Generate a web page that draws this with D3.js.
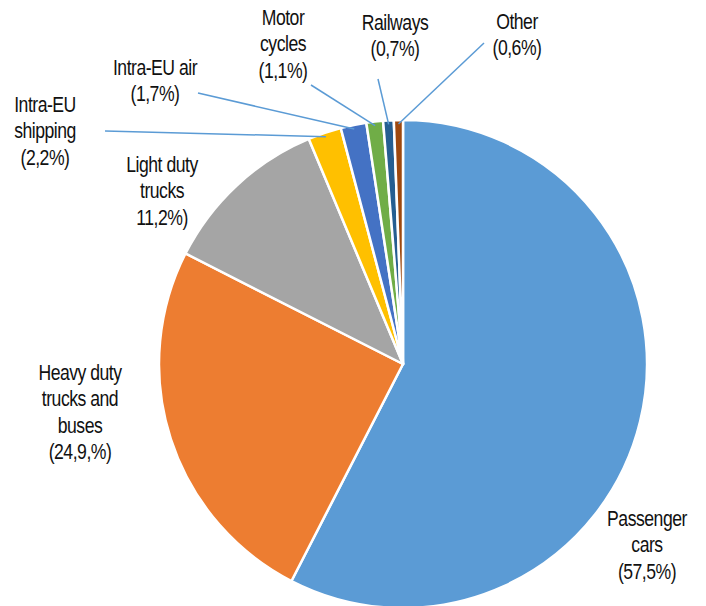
<!DOCTYPE html>
<html>
<head>
<meta charset="utf-8">
<script src="https://cdn.jsdelivr.net/npm/d3@7"></script>
<style>
  html, body { margin: 0; padding: 0; background: #fff; }
  svg { display: block; }
  text { font-family: "Liberation Sans", Arial, sans-serif; fill: #111; }
</style>
</head>
<body>
<svg id="chart" width="706" height="606"></svg>
<script>
// Transport emissions share by mode
const categories = ["Passenger cars", "Heavy duty trucks and buses", "Light duty trucks",
  "Intra-EU shipping", "Intra-EU air", "Motor cycles", "Railways", "Other"];
const shares = [57.5, 24.9, 11.2, 2.2, 1.7, 1.1, 0.7, 0.6];
const labelLines = [
  ["Passenger", "cars", "(57,5%)"],
  ["Heavy duty", "trucks and", "buses", "(24,9,%)"],
  ["Light duty", "trucks", "11,2%)"],
  ["Intra-EU", "shipping", "(2,2%)"],
  ["Intra-EU air", "(1,7%)"],
  ["Motor", "cycles", "(1,1%)"],
  ["Railways", "(0,7%)"],
  ["Other", "(0,6%)"]
];
const colors = ["#5B9BD5", "#ED7D31", "#A5A5A5", "#FFC000", "#4472C4", "#70AD47", "#255E91", "#9E480E"];

// Layout: label anchor (centre x, first baseline y) and optional leader start
const layout = [
  { x: 647, y: 526 },
  { x: 80, y: 380 },
  { x: 162, y: 172 },
  { x: 45, y: 112, lead: [105, 131] },
  { x: 155, y: 75, lead: [198, 93] },
  { x: 283, y: 25, lead: [311, 85] },
  { x: 395, y: 30, lead: [378, 79] },
  { x: 517, y: 29, lead: [484, 43] }
];

const cx = 403, cy = 364, r = 244;
const svg = d3.select("#chart");
const g = svg.append("g").attr("transform", `translate(${cx},${cy})`);

const pie = d3.pie().sort(null).value(d => d.v);
const data = categories.map((c, i) => ({ name: c, v: shares[i], i }));
const arcs = pie(data);
const arc = d3.arc().innerRadius(0).outerRadius(r);

g.selectAll("path.slice").data(arcs).join("path")
  .attr("class", "slice")
  .attr("d", arc)
  .attr("fill", d => colors[d.data.i])
  .attr("stroke", "#fff")
  .attr("stroke-width", 2.5)
  .attr("stroke-linejoin", "round");

// Leader lines for the thin slices
const edge = d3.arc().innerRadius(r - 4).outerRadius(r - 4);
arcs.forEach(a => {
  const L = layout[a.data.i];
  if (!L.lead) return;
  const [ex, ey] = edge.centroid(a);
  svg.append("line")
    .attr("x1", L.lead[0]).attr("y1", L.lead[1])
    .attr("x2", cx + ex).attr("y2", cy + ey)
    .attr("stroke", "#5B9BD5").attr("stroke-width", 1.5);
});

// Labels
const lineH = 26.5;
categories.forEach((c, i) => {
  const L = layout[i];
  const t = svg.append("g")
    .attr("transform", `translate(${L.x},${L.y}) scale(0.8,1)`)
    .append("text")
    .attr("text-anchor", "middle")
    .attr("font-size", 22)
    .attr("letter-spacing", -0.6);
  labelLines[i].forEach((s, k) => {
    t.append("tspan").attr("x", 0).attr("y", k * lineH).text(s);
  });
});
</script>
</body>
</html>
